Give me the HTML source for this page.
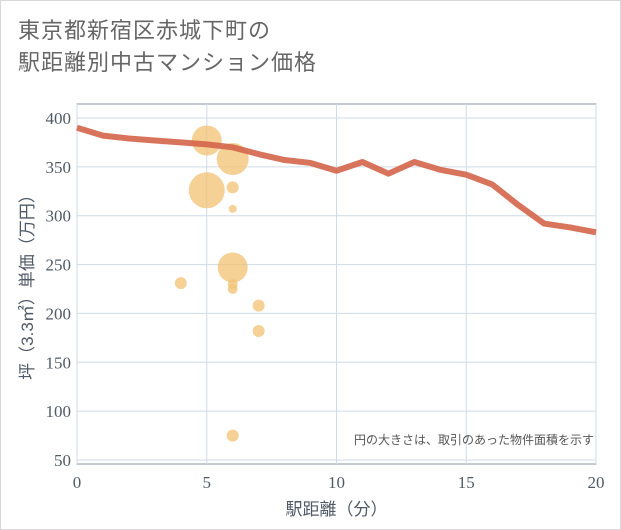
<!DOCTYPE html>
<html><head><meta charset="utf-8"><style>
body{margin:0;background:#fff;}
#card{position:relative;width:619px;height:528px;border:1px solid #d8d8d8;background:#fff;font-family:"Liberation Sans","Noto Sans CJK JP",sans-serif;}
#title{position:absolute;left:17px;top:14px;font-size:22px;line-height:32px;color:#666;letter-spacing:1px;}
</style></head><body>
<div id="card">
<div id="title">東京都新宿区赤城下町の<br>駅距離別中古マンション価格</div>
<svg id="chart" width="621" height="530" style="position:absolute;left:-1px;top:-1px"></svg>
</div>
<script>
const xTicks=[0,5,10,15,20];
const yTicks=[50,100,150,200,250,300,350,400];
const lineX=[0,1,2,3,4,5,6,7,8,9,10,11,12,13,14,15,16,17,18,19,20];
const lineY=[390,382,379,377,375,373,370,363,357,354,346,355,343,355,347,342,332,311,292,288,283];
const bubX=[5,6,5,6,6,6,4,6,6,7,7,6];
const bubY=[377,358,326,329,307,247,231,230,225,208,182,75];
const bubR=[15,16,18,6,4,15,6,5,5,6,6,6];
const L=77,R=596,T=104,B=464;
const sx=v=>L+(v-0)/20*(R-L);
const sy=v=>460-(v-50)/350*(460-118);
const svg=document.getElementById('chart');const NS='http://www.w3.org/2000/svg';
function mk(t,a,p){const e=document.createElementNS(NS,t);for(const k in a)e.setAttribute(k,a[k]);(p||svg).appendChild(e);return e;}
const box=mk('rect',{x:L,y:T,width:R-L,height:B-T,fill:'none',stroke:'#8a94a0','stroke-width':1});


yTicks.forEach(v=>{const g=mk('line',{x1:L,x2:R,y1:sy(v),y2:sy(v),stroke:'#cfdbe6','stroke-width':1});


const t=mk('text',{x:L-6,y:sy(v)+6,'text-anchor':'end','font-size':17,fill:'#505a66','font-family':'Liberation Serif, serif'});t.textContent=v;

});
xTicks.forEach(v=>{const g=mk('line',{x1:sx(v),x2:sx(v),y1:T,y2:B,stroke:'#cfdbe6','stroke-width':1});


const t=mk('text',{x:sx(v),y:B+24,'text-anchor':'middle','font-size':17,fill:'#505a66','font-family':'Liberation Serif, serif'});t.textContent=v;

});
bubX.forEach((x,i)=>{const c=mk('circle',{cx:sx(x),cy:sy(bubY[i]),r:bubR[i],fill:'#f2c173','fill-opacity':0.75});

});
const ln=mk('polyline',{points:lineX.map((x,i)=>sx(x)+','+sy(lineY[i])).join(' '),fill:'none',stroke:'#d4654a','stroke-opacity':0.9,'stroke-width':6,'stroke-linejoin':'round'});


const note=mk('text',{x:594,y:444,'text-anchor':'end','font-size':12,fill:'#555'});note.textContent='円の大きさは、取引のあった物件面積を示す';


const xt=mk('text',{x:(L+R)/2,y:515,'text-anchor':'middle','font-size':17,fill:'#505a66'});xt.textContent='駅距離（分）';


const yt=mk('text',{x:0,y:0,'text-anchor':'middle','font-size':17,fill:'#505a66',transform:'translate(33,283) rotate(-90)'});yt.textContent='坪（3.3㎡）単価（万円）';


</script>
</body></html>
